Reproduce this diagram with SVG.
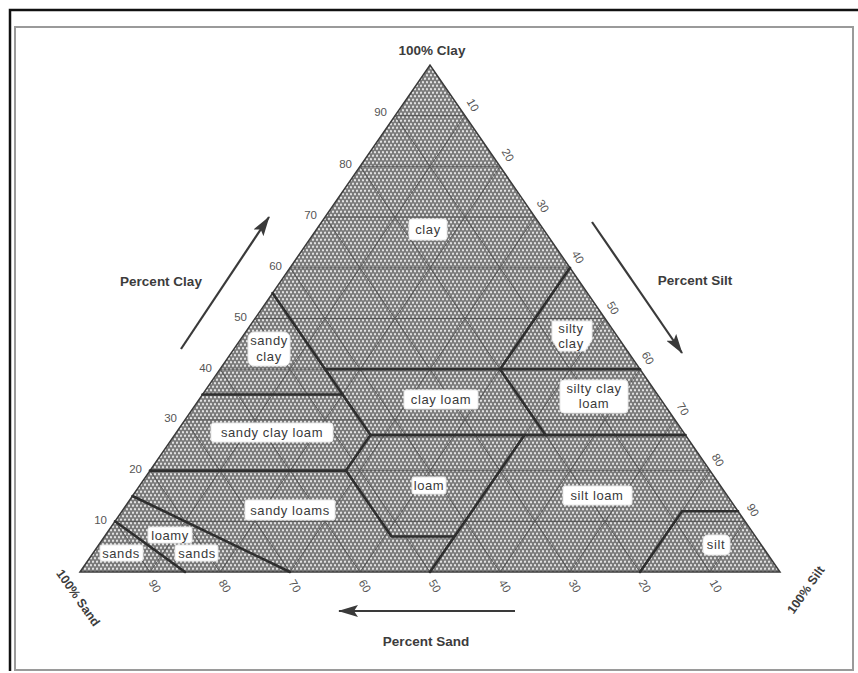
<svg xmlns="http://www.w3.org/2000/svg" width="858" height="673" viewBox="0 0 858 673">
<defs>
<pattern id="dots" width="4" height="7" patternUnits="userSpaceOnUse">
<rect width="4" height="7" fill="#7a7a7a"/>
<circle cx="1" cy="1.75" r="1.15" fill="#e2e2e2"/>
<circle cx="3" cy="5.25" r="1.15" fill="#e2e2e2"/>
</pattern>
<marker id="ah" viewBox="0 0 20 12" refX="19" refY="6" markerWidth="20" markerHeight="12" markerUnits="userSpaceOnUse" orient="auto">
<path d="M0,0 L20,6 L0,12 L4,6 Z" fill="#3a3a3a"/>
</marker>
<style>
text{font-family:"Liberation Sans",Arial,sans-serif;}
.grid{stroke:#4a4a4a;stroke-width:1;fill:none;opacity:0.75}
.bnd{stroke:#2e2e2e;stroke-width:2.6;fill:none;stroke-linecap:round}
.tick{font-size:11.5px;fill:#555;}
.axis{font-size:13.5px;font-weight:bold;fill:#3c3c3c;}
.lbl{font-size:13px;fill:#3a3a3a;letter-spacing:0.6px;text-anchor:middle}
.box{fill:#ffffff;stroke:#e8e8e8;stroke-width:1}
.arrow{stroke:#3a3a3a;stroke-width:2.2;fill:none}
</style>
</defs>
<rect width="858" height="673" fill="#ffffff"/>
<!-- page frame -->
<polyline points="10,671 10,10 858,10" fill="none" stroke="#111" stroke-width="2.5"/>
<rect x="15" y="27" width="838" height="643" fill="none" stroke="#9a9a9a" stroke-width="2"/>

<!-- triangle -->
<g id="triangle">
<polygon points="80,572 430,65 780,572" fill="url(#dots)" stroke="#3a3a3a" stroke-width="1.5"/>
<g class="grid">
<line x1="115" y1="521.3" x2="745" y2="521.3"/>
<line x1="150" y1="470.6" x2="710" y2="470.6"/>
<line x1="185" y1="419.9" x2="675" y2="419.9"/>
<line x1="220" y1="369.2" x2="640" y2="369.2"/>
<line x1="255" y1="318.5" x2="605" y2="318.5"/>
<line x1="290" y1="267.8" x2="570" y2="267.8"/>
<line x1="325" y1="217.1" x2="535" y2="217.1"/>
<line x1="360" y1="166.4" x2="500" y2="166.4"/>
<line x1="395" y1="115.7" x2="465" y2="115.7"/>
<line x1="150" y1="572" x2="115" y2="521.3"/>
<line x1="220" y1="572" x2="150" y2="470.6"/>
<line x1="290" y1="572" x2="185" y2="419.9"/>
<line x1="360" y1="572" x2="220" y2="369.2"/>
<line x1="430" y1="572" x2="255" y2="318.5"/>
<line x1="500" y1="572" x2="290" y2="267.8"/>
<line x1="570" y1="572" x2="325" y2="217.1"/>
<line x1="640" y1="572" x2="360" y2="166.4"/>
<line x1="710" y1="572" x2="395" y2="115.7"/>
<line x1="150" y1="572" x2="465" y2="115.7"/>
<line x1="220" y1="572" x2="500" y2="166.4"/>
<line x1="290" y1="572" x2="535" y2="217.1"/>
<line x1="360" y1="572" x2="570" y2="267.8"/>
<line x1="430" y1="572" x2="605" y2="318.5"/>
<line x1="500" y1="572" x2="640" y2="369.2"/>
<line x1="570" y1="572" x2="675" y2="419.9"/>
<line x1="640" y1="572" x2="710" y2="470.6"/>
<line x1="710" y1="572" x2="745" y2="521.3"/>
</g>
<g class="bnd">
<line x1="272.5" y1="293.1" x2="370.5" y2="435.1"/>
<line x1="202.5" y1="394.5" x2="342.5" y2="394.5"/>
<line x1="325" y1="369.2" x2="640" y2="369.2"/>
<line x1="570" y1="267.8" x2="500" y2="369.2"/>
<line x1="500" y1="369.2" x2="545.5" y2="435.1"/>
<line x1="370.5" y1="435.1" x2="685.5" y2="435.1"/>
<line x1="150" y1="470.6" x2="346" y2="470.6"/>
<polyline points="370.5,435.1 346,470.6 391.5,536.5 454.5,536.5"/>
<line x1="430" y1="572" x2="524.5" y2="435.1"/>
<polyline points="640,572 682,511.2 738,511.2"/>
<line x1="132.5" y1="496" x2="290" y2="572"/>
<line x1="115" y1="521.3" x2="185" y2="572"/>
</g>
</g>

<!-- tick labels -->
<g id="clay-ticks" class="tick" text-anchor="end">
<text x="107" y="524">10</text>
<text x="142" y="473">20</text>
<text x="177" y="422">30</text>
<text x="212" y="372">40</text>
<text x="247" y="321">50</text>
<text x="282" y="270">60</text>
<text x="317" y="219">70</text>
<text x="352" y="168">80</text>
<text x="387" y="116">90</text>
</g>
<g id="silt-ticks" class="tick" text-anchor="middle" dominant-baseline="central">
<text transform="translate(473,105) rotate(60)">10</text>
<text transform="translate(508,155) rotate(60)">20</text>
<text transform="translate(543,206) rotate(60)">30</text>
<text transform="translate(578,257) rotate(60)">40</text>
<text transform="translate(613,308) rotate(60)">50</text>
<text transform="translate(648,358) rotate(60)">60</text>
<text transform="translate(683,409) rotate(60)">70</text>
<text transform="translate(718,460) rotate(60)">80</text>
<text transform="translate(753,510) rotate(60)">90</text>
</g>
<g id="sand-ticks" class="tick" text-anchor="middle" dominant-baseline="central">
<text transform="translate(155,586) rotate(60)">90</text>
<text transform="translate(225,586) rotate(60)">80</text>
<text transform="translate(295,586) rotate(60)">70</text>
<text transform="translate(365,586) rotate(60)">60</text>
<text transform="translate(435,586) rotate(60)">50</text>
<text transform="translate(505,586) rotate(60)">40</text>
<text transform="translate(575,586) rotate(60)">30</text>
<text transform="translate(645,586) rotate(60)">20</text>
<text transform="translate(716,586) rotate(60)">10</text>
</g>

<!-- axis titles -->
<g id="axis-titles" class="axis">
<text x="432" y="55" text-anchor="middle">100% Clay</text>
<text x="161" y="286" text-anchor="middle">Percent Clay</text>
<text x="695" y="285" text-anchor="middle">Percent Silt</text>
<text x="426" y="646" text-anchor="middle">Percent Sand</text>
<text transform="translate(78,598) rotate(55)" text-anchor="middle" dominant-baseline="central" style="font-size:12.5px">100% Sand</text>
<text transform="translate(806,590) rotate(-55)" text-anchor="middle" dominant-baseline="central" style="font-size:12.5px">100% Silt</text>
</g>

<!-- connectors: direction arrows -->
<g id="connectors">
<line class="arrow" x1="181" y1="349" x2="269" y2="217" marker-end="url(#ah)"/>
<line class="arrow" x1="592" y1="222" x2="682" y2="353" marker-end="url(#ah)"/>
<line class="arrow" x1="515" y1="611" x2="339" y2="611" marker-end="url(#ah)"/>
</g>

<!-- region labels -->
<g id="clay">
<rect class="box" x="409" y="219" width="38" height="21" rx="3"/>
<text class="lbl" x="428" y="234">clay</text>
</g>
<g id="sandy-clay">
<rect class="box" x="248" y="332" width="42" height="34" rx="6"/>
<text class="lbl" x="269" y="345">sandy</text>
<text class="lbl" x="269" y="361">clay</text>
</g>
<g id="silty-clay">
<path class="box" d="M552,321 L592,321 L592,340 L585,351 L559,351 L552,340 Z"/>
<text class="lbl" x="571" y="333">silty</text>
<text class="lbl" x="571" y="348">clay</text>
</g>
<g id="clay-loam">
<rect class="box" x="404" y="390" width="74" height="19" rx="2"/>
<text class="lbl" x="441" y="404">clay loam</text>
</g>
<g id="silty-clay-loam">
<rect class="box" x="560" y="380" width="68" height="33" rx="4"/>
<text class="lbl" x="594" y="393">silty clay</text>
<text class="lbl" x="594" y="408">loam</text>
</g>
<g id="sandy-clay-loam">
<rect class="box" x="211" y="423" width="122" height="19" rx="3"/>
<text class="lbl" x="272" y="437">sandy clay loam</text>
</g>
<g id="loam">
<rect class="box" x="412" y="477" width="34" height="17" rx="2"/>
<text class="lbl" x="429" y="490">loam</text>
</g>
<g id="sandy-loams">
<rect class="box" x="245" y="500" width="90" height="20" rx="2"/>
<text class="lbl" x="290" y="515">sandy loams</text>
</g>
<g id="silt-loam">
<rect class="box" x="563" y="486" width="69" height="19" rx="2"/>
<text class="lbl" x="597" y="500">silt loam</text>
</g>
<g id="silt">
<rect class="box" x="703" y="535" width="27" height="20" rx="5"/>
<text class="lbl" x="716" y="549">silt</text>
</g>
<g id="loamy-sands">
<rect class="box" x="148" y="527" width="44" height="16" rx="2"/>
<text class="lbl" x="170" y="540">loamy</text>
<rect class="box" x="175" y="545" width="43" height="16" rx="2"/>
<text class="lbl" x="197" y="558">sands</text>
</g>
<g id="sands">
<rect class="box" x="100" y="545" width="43" height="16" rx="2"/>
<text class="lbl" x="121" y="558">sands</text>
</g>
</svg>
